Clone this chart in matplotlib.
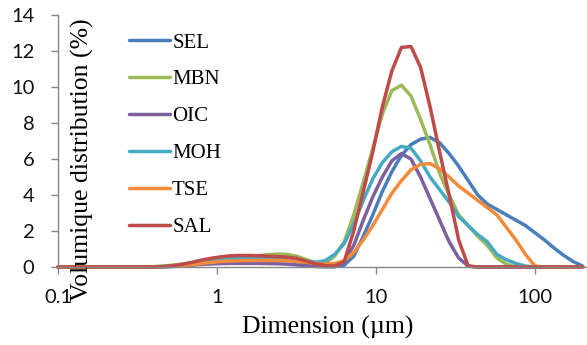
import matplotlib
matplotlib.use("Agg")
import matplotlib.pyplot as plt

sizes_um = [0.1, 0.115, 0.132, 0.151, 0.174, 0.2, 0.229, 0.263, 0.302, 0.347,
            0.398, 0.457, 0.525, 0.603, 0.692, 0.794, 0.912, 1.047, 1.202, 1.38,
            1.585, 1.82, 2.089, 2.399, 2.754, 3.162, 3.631, 4.169, 4.786, 5.495,
            6.31, 7.244, 8.318, 9.55, 10.965, 12.589, 14.454, 16.596, 19.055, 21.878,
            25.119, 28.84, 33.113, 38.019, 43.652, 50.119, 57.544, 66.069, 75.858, 87.096,
            100, 114.815, 131.826, 151.356, 173.78, 199.526]

SEL = [0]*11 + [0.01, 0.04, 0.1, 0.17, 0.25, 0.32, 0.37, 0.4, 0.42, 0.42, 0.42, 0.41, 0.4, 0.38,
                0.33, 0.22, 0.1, 0.04, 0.02,
                0.1, 0.6, 1.7, 2.9, 4.2, 5.3, 6.2, 6.8, 7.1, 7.2, 6.9, 6.3, 5.6, 4.8, 4.0, 3.5,
                3.2, 2.9, 2.6, 2.3, 1.9, 1.5, 1.05, 0.65, 0.3, 0.05]
MBN = [0]*10 + [0.02, 0.06, 0.1, 0.16, 0.24, 0.33, 0.42, 0.5, 0.55, 0.58, 0.6, 0.63, 0.68, 0.72,
                0.7, 0.6, 0.42, 0.25, 0.2, 0.6, 1.4, 2.9, 4.7, 6.6, 8.5, 9.8, 10.1, 9.5, 8.2, 6.8,
                5.2, 4.0, 2.9, 2.3, 1.7, 1.2, 0.5, 0.15, 0.02] + [0]*7
OIC = [0]*11 + [0.01, 0.03, 0.06, 0.1, 0.14, 0.17, 0.19, 0.2, 0.2, 0.2, 0.2, 0.19, 0.18, 0.16,
                0.12, 0.07, 0.03, 0.01, 0.02, 0.3, 1.2, 2.6, 3.9, 5.0, 5.9, 6.3, 6.0, 5.0, 3.8,
                2.6, 1.4, 0.5, 0.05] + [0]*12
MOH = [0]*11 + [0.02, 0.05, 0.1, 0.17, 0.25, 0.33, 0.4, 0.45, 0.48, 0.5, 0.5, 0.5, 0.5, 0.48,
                0.42, 0.33, 0.26, 0.35, 0.7, 1.3, 2.4, 3.7, 4.9, 5.8, 6.4, 6.7, 6.6, 5.9, 5.0,
                4.3, 3.6, 2.8, 2.3, 1.8, 1.4, 0.7, 0.4, 0.2, 0.05] + [0]*6
TSE = [0]*11 + [0.01, 0.04, 0.08, 0.13, 0.19, 0.25, 0.3, 0.33, 0.35, 0.36, 0.36, 0.36, 0.36, 0.35,
                0.32, 0.26, 0.2, 0.16, 0.2, 0.35, 0.8, 1.5, 2.3, 3.2, 4.1, 4.8, 5.4, 5.7, 5.75,
                5.45, 5.0, 4.5, 4.1, 3.7, 3.3, 2.9, 2.2, 1.5, 0.7, 0.05] + [0]*5
SAL = [0]*11 + [0.02, 0.07, 0.15, 0.25, 0.38, 0.48, 0.56, 0.62, 0.64, 0.64, 0.63, 0.6, 0.58, 0.55,
                0.48, 0.33, 0.18, 0.08, 0.05, 0.3, 2.0, 4.2, 6.4, 8.9, 10.9, 12.2, 12.25, 11.1, 8.9,
                6.4, 4.0, 1.5, 0.05] + [0]*12

series_names = ["SEL", "MBN", "OIC", "MOH", "TSE", "SAL"]
series_values = [SEL, MBN, OIC, MOH, TSE, SAL]
series_colors = ["#4A7EBB", "#9BBB59", "#7D60A0", "#46AAC5", "#F38B3A", "#BE4B48"]

y_ticks = [0, 2, 4, 6, 8, 10, 12, 14]
x_ticks = [0.1, 1, 10, 100]
x_tick_labels = ["0.1", "1", "10", "100"]

W, H = 587, 345
fig = plt.figure(figsize=(W/100, H/100), dpi=100)
ax = fig.add_axes([58/W, (H-267)/H, (587-58)/W, 252/H])

for name, vals, col in zip(series_names, series_values, series_colors):
    ax.plot(sizes_um, vals, color=col, lw=2.5, label=name,
            solid_joinstyle="round", solid_capstyle="round", clip_on=False)

ax.set_xscale("log")
ax.set_xlim(0.1, 10**2.327)
ax.set_ylim(0, 14)
ax.set_yticks(y_ticks)
ax.set_xticks(x_ticks)
ax.set_xticklabels(x_tick_labels)
ax.xaxis.set_minor_locator(matplotlib.ticker.NullLocator())

for s in ["top", "right"]:
    ax.spines[s].set_visible(False)
for s in ["left", "bottom"]:
    ax.spines[s].set_color("#868686")
    ax.spines[s].set_linewidth(1.0)
ax.tick_params(axis="both", direction="out", length=5, width=1.0, color="#868686",
               labelsize=14.5, labelcolor="#111111")
ax.tick_params(axis="y", pad=12)
ax.tick_params(axis="x", pad=11)
for lab in ax.get_xticklabels() + ax.get_yticklabels():
    lab.set_family(["Lato", "DejaVu Sans"])

serif = ["Liberation Serif", "DejaVu Serif"]
fig.text(82/W, 1-160/H, "Volumique distribution (%)", rotation=90, ha="center", va="center",
         fontsize=18.5, family=serif)
fig.text(328/W, 1-327/H, "Dimension (\u00b5m)", ha="center", va="center",
         fontsize=18.5, family=serif)

leg = ax.legend(loc="upper left", bbox_to_anchor=(129/W, 1-33/H),
                bbox_transform=fig.transFigure, frameon=False,
                prop={"family": serif, "size": 15}, handlelength=1.97,
                handletextpad=0.1, labelspacing=0.83, borderpad=0, borderaxespad=0)

fig.savefig("out.png", dpi=100)
